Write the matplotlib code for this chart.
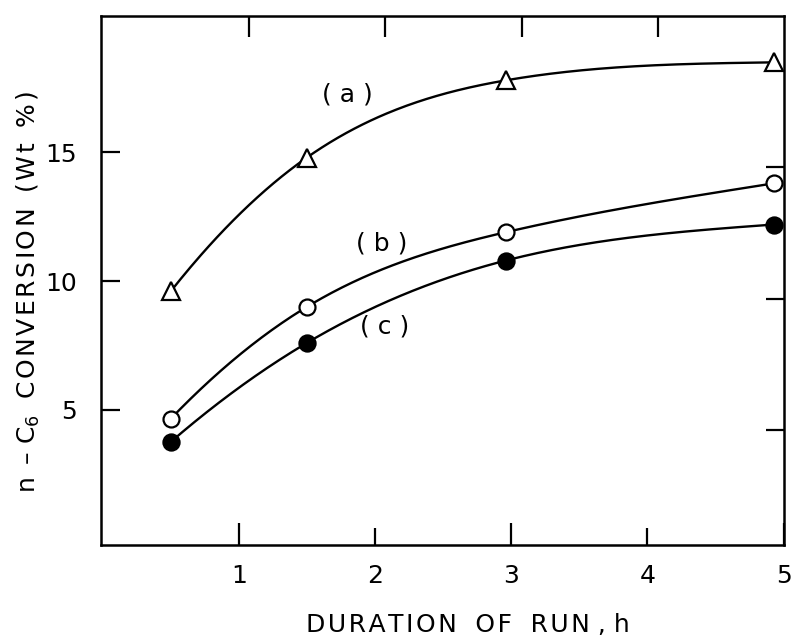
import numpy as np
import matplotlib
matplotlib.use("Agg")
import matplotlib.pyplot as plt

# Run duration (h) and n-C6 conversion (wt %) for the three runs
hours = [0.5, 1.5, 2.96, 4.93]
conv_a = [9.6, 14.8, 17.8, 18.5]
conv_b = [4.65, 9.0, 11.9, 13.8]
conv_c = [3.75, 7.6, 10.8, 12.2]

series_labels = ["( a )", "( b )", "( c )"]
label_pos = [(1.8, 17.25), (2.05, 11.45), (2.07, 8.25)]

x_major = [1, 3, 5]
x_minor = [2, 4]
y_ticks = [5, 10, 15]

HS = "\u200a"  # hair space used for the wide lettering


def spaced(s):
    return HS.join(s)


def smooth_curve(x, y, n=300):
    """Cubic spline through the points: parabolic run-out at the start,
    natural (zero curvature) at the end."""
    x = np.asarray(x, float)
    y = np.asarray(y, float)
    k = len(x)
    h = np.diff(x)
    A = np.zeros((k, k))
    r = np.zeros(k)
    A[0, 0], A[0, 1] = 1.0, -1.0
    A[-1, -1] = 1.0
    for i in range(1, k - 1):
        A[i, i - 1] = h[i - 1]
        A[i, i] = 2 * (h[i - 1] + h[i])
        A[i, i + 1] = h[i]
        r[i] = 6 * ((y[i + 1] - y[i]) / h[i] - (y[i] - y[i - 1]) / h[i - 1])
    M = np.linalg.solve(A, r)
    xs = np.linspace(x[0], x[-1], n)
    idx = np.clip(np.searchsorted(x, xs) - 1, 0, k - 2)
    x0, x1 = x[idx], x[idx + 1]
    hh = x1 - x0
    t0, t1 = x1 - xs, xs - x0
    ys = (M[idx] * t0 ** 3 / (6 * hh) + M[idx + 1] * t1 ** 3 / (6 * hh)
          + (y[idx] / hh - M[idx] * hh / 6) * t0
          + (y[idx + 1] / hh - M[idx + 1] * hh / 6) * t1)
    return xs, ys


plt.rcParams["font.family"] = ["DejaVu Sans"]

W, H = 794, 644
fig = plt.figure(figsize=(W / 100, H / 100), dpi=100)
left, right, top, bottom = 100.5, 783.5, 16, 545
ax = fig.add_axes([left / W, 1 - bottom / H, (right - left) / W, (bottom - top) / H])

ax.set_xlim(-0.015, 5.0)
ax.set_ylim(-0.25, 20.3)

lw = 1.7
for ys in (conv_a, conv_b, conv_c):
    sx, sy = smooth_curve(hours, ys)
    ax.plot(sx, sy, color="black", lw=lw, zorder=2, solid_capstyle="round")

ax.plot(hours, conv_a, ls="none", marker="^", ms=13, mfc="white", mec="black", mew=1.6, zorder=3, clip_on=False)
ax.plot(hours, conv_b, ls="none", marker="o", ms=11.5, mfc="white", mec="black", mew=1.6, zorder=3, clip_on=False)
ax.plot(hours, conv_c, ls="none", marker="o", ms=12, mfc="black", mec="black", mew=1.2, zorder=3, clip_on=False)

for txt, (tx, ty) in zip(series_labels, label_pos):
    ax.text(tx, ty, txt, fontsize=18, ha="center", va="center")

for s in ax.spines.values():
    s.set_linewidth(1.8)

ax.set_xticks(x_major)
ax.set_xticks(x_minor, minor=True)
ax.set_xticklabels([str(v) for v in x_major])
ax.set_xticklabels([str(v) for v in x_minor], minor=True)
ax.tick_params(axis="x", which="major", direction="in", length=16, width=1.6, pad=14, labelsize=18)
ax.tick_params(axis="x", which="minor", direction="in", length=12, width=1.6, pad=14, labelsize=18)
ax.set_yticks(y_ticks)
ax.set_yticklabels([str(v) for v in y_ticks])
ax.tick_params(axis="y", direction="in", length=14, width=1.6, pad=17, labelsize=18)

# Ticks along the right and top edges of the frame
ax_r = ax.twinx()
ax_r.set_ylim(0.63, 20.74)
ax_r.set_yticks(y_ticks)
ax_r.tick_params(axis="y", direction="in", length=13, width=1.6, labelright=False)
ax_t = ax.twiny()
ax_t.set_xlim(-0.0895, 4.918)
ax_t.set_xticks([1, 2, 3, 4])
ax_t.tick_params(axis="x", direction="in", length=15, width=1.6, labeltop=False)
for a in (ax_r, ax_t):
    for s in a.spines.values():
        s.set_visible(False)

xlabel = " ".join(spaced(w) for w in ["DURATION", " OF", " RUN", ",", "h"])
fig.text(468 / W, 1 - 625 / H, xlabel, fontsize=18, ha="center", va="center")
ylabel = spaced("n –") + " C$_6$  " + spaced("CONVERSION") + "  " + spaced("(Wt") + "  " + spaced("%)")
fig.text(28 / W, 1 - 292 / H, ylabel, fontsize=18, ha="center", va="center", rotation=90)

fig.savefig("out.png", dpi=100)
